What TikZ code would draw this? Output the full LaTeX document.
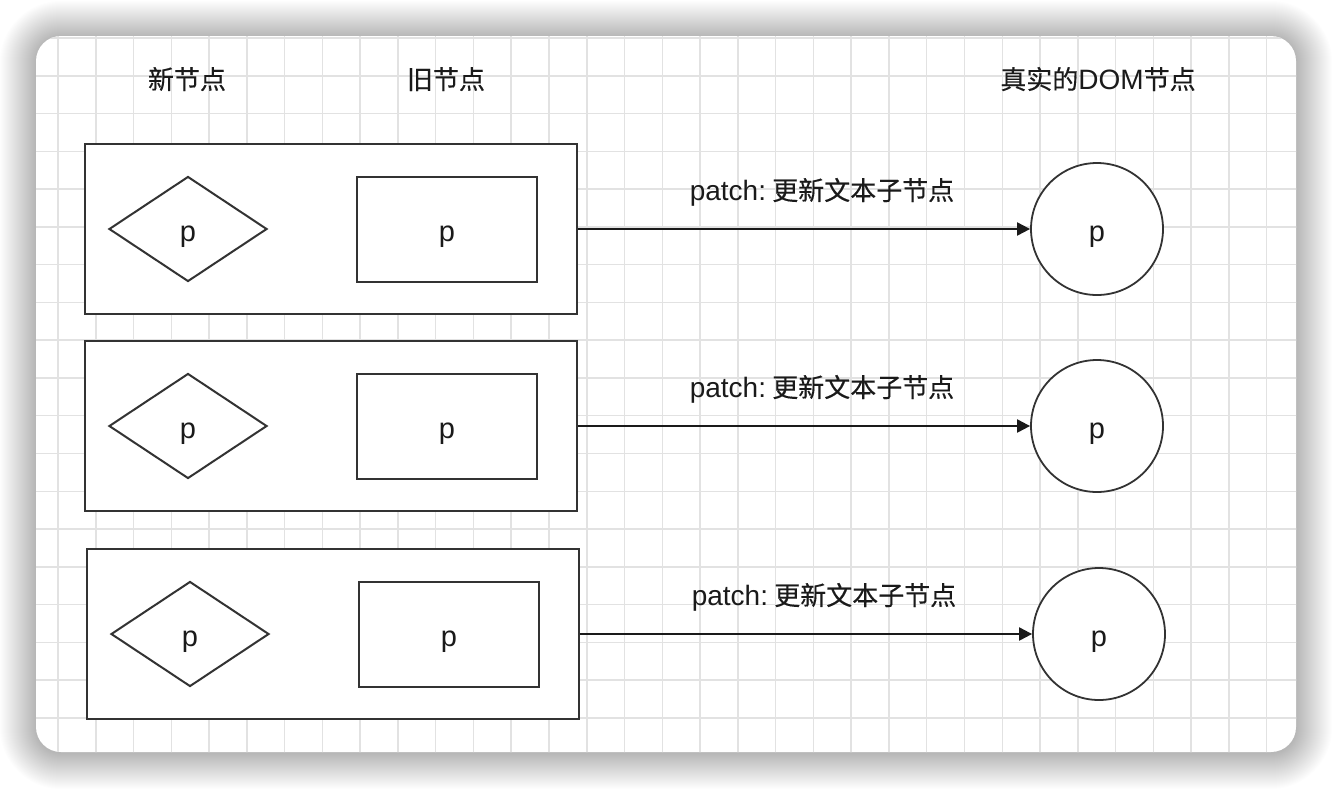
\documentclass[tikz,border=0pt]{standalone}
\usepackage{fontspec}
\setmainfont{Liberation Sans}
\newfontfamily\cjkfont{Noto Sans CJK SC}[FakeBold=0.4]
\usetikzlibrary{shapes.geometric,arrows.meta}
\newcommand\zh[1]{{\cjkfont\fontsize{26}{30}\selectfont #1}}
\definecolor{ink}{HTML}{333333}
\definecolor{txt}{HTML}{1A1A1A}
\definecolor{gridc}{HTML}{E2E2E2}
\tikzset{
  gridline/.style={draw=gridc, line width=1.5pt},
  outerbox/.style={draw=ink, line width=2pt, fill=white, minimum width=492pt, minimum height=170pt, inner sep=0pt},
  pnode/.style={draw=ink, line width=2pt, fill=white, inner sep=0pt, font=\fontsize{29}{32}\selectfont, text=txt, text height=26pt, text depth=1pt},
  newnode/.style={pnode, diamond, aspect=1.5, minimum width=158pt, minimum height=105pt},
  oldnode/.style={pnode, rectangle, minimum width=180pt, minimum height=105pt},
  domnode/.style={pnode, line width=1.8pt, circle, minimum size=132pt},
  arr/.style={draw=txt, line width=2pt, -{Triangle[length=13pt,width=13pt]}},
  lbl/.style={anchor=base, inner sep=0pt, text=txt, font=\fontsize{28}{32}\selectfont},
}
\begin{document}
\begin{tikzpicture}[x=1pt,y=-1pt]
\useasboundingbox (0,0) rectangle (1332,788);
\fill[white] (0,0) rectangle (1332,788);
% card shadow
\foreach \k in {1,...,36}
  \fill[black, fill opacity=0.007, rounded corners={25pt+\k pt}] ({36-\k},{37-\k}) rectangle ({1296+\k},{753+\k});
% card
\fill[white, rounded corners=25pt] (36,36) rectangle (1296,752);
\begin{scope}
\clip[rounded corners=25pt] (36,36) rectangle (1296,752);
\foreach \i in {0,...,32} \draw[gridline] ({58+37.77*\i},30) -- ({58+37.77*\i},760);
\foreach \j in {0,...,18} \draw[gridline] (30,{38+37.77*\j}) -- (1300,{38+37.77*\j});
\end{scope}
% headers
\node[lbl] (h1) at (187,89) {\zh{新节点}};
\node[lbl] (h2) at (446,89) {\zh{旧节点}};
\node[lbl] (h3) at (1098,89) {\zh{真实的}DOM\zh{节点}};
% row 1
\node[outerbox] (b1) at (331,229) {};
\node[newnode] (n1) at (188,229) {p};
\node[oldnode] (o1) at (447,229) {p};
\node[domnode] (c1) at (1097,229) {p};
\draw[arr] (b1.east) -- (c1.west);
\node[lbl] (l1) at (822,200) {patch:\hspace{0.22em}\zh{更新文本子节点}};
% row 2
\node[outerbox] (b2) at (331,426) {};
\node[newnode] (n2) at (188,426) {p};
\node[oldnode] (o2) at (447,426) {p};
\node[domnode] (c2) at (1097,426) {p};
\draw[arr] (b2.east) -- (c2.west);
\node[lbl] (l2) at (822,397) {patch:\hspace{0.22em}\zh{更新文本子节点}};
% row 3
\node[outerbox] (b3) at (333,634) {};
\node[newnode] (n3) at (190,634) {p};
\node[oldnode] (o3) at (449,634) {p};
\node[domnode] (c3) at (1099,634) {p};
\draw[arr] (b3.east) -- (c3.west);
\node[lbl] (l3) at (824,605) {patch:\hspace{0.22em}\zh{更新文本子节点}};
\end{tikzpicture}
\end{document}
